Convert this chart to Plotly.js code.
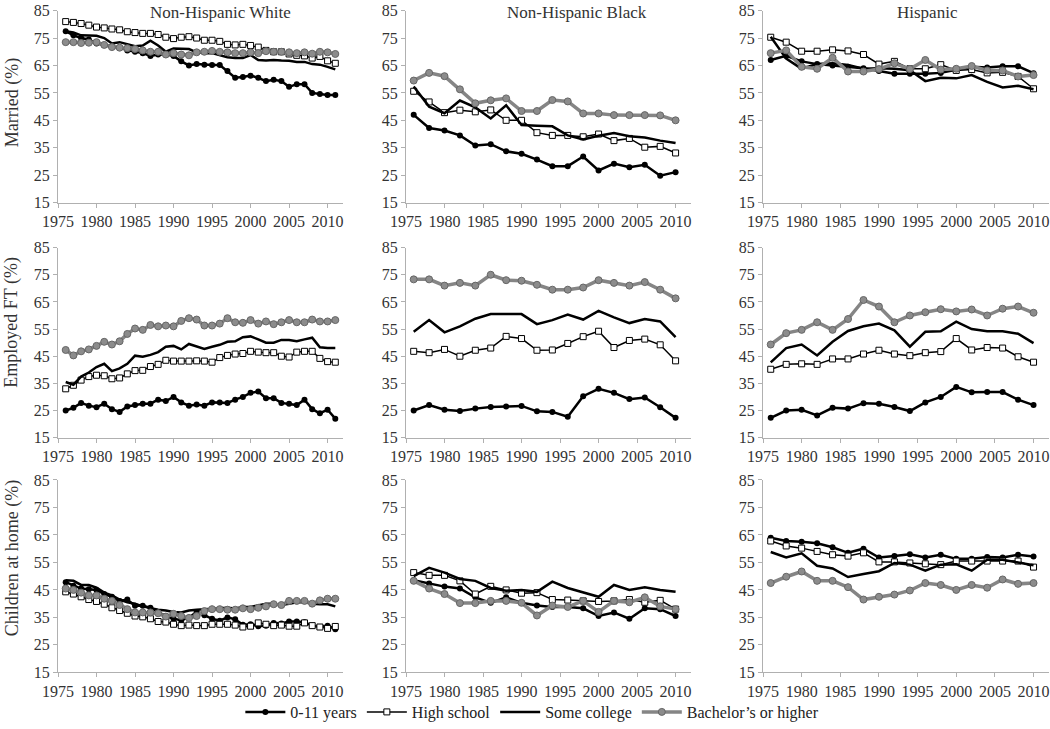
<!DOCTYPE html>
<html>
<head>
<meta charset="utf-8">
<script src="https://cdn.plot.ly/plotly-3.0.1.min.js"></script>
<style>html,body{margin:0;padding:0;background:#fff;}#chart{width:1050px;height:729px;}</style>
</head>
<body>
<div id="chart"></div>
<script>
// ---------- categories ----------
const yearsAnnual = [1976,1977,1978,1979,1980,1981,1982,1983,1984,1985,1986,1987,1988,1989,1990,1991,1992,1993,1994,1995,1996,1997,1998,1999,2000,2001,2002,2003,2004,2005,2006,2007,2008,2009,2010,2011];
const yearsBiennial = [1976,1978,1980,1982,1984,1986,1988,1990,1992,1994,1996,1998,2000,2002,2004,2006,2008,2010];
const seriesNames = ["0-11 years","High school","Some college","Bachelor\u2019s or higher"];
const columnTitles = ["Non-Hispanic White","Non-Hispanic Black","Hispanic"];
const rowTitles = ["Married (%)","Employed FT (%)","Children at home (%)"];
const xTickVals = [1975,1980,1985,1990,1995,2000,2005,2010];
const yTickVals = [15,25,35,45,55,65,75,85];

// ---------- Married ----------
const whiteMarried_0_11 = [77.5,76,75,74.5,73,72.5,72,71.5,70.5,70,69.5,68.5,69,69,68.5,66.5,65,65.5,65.3,65.2,65.2,63,60.5,60.8,61.3,60.5,59.3,59.8,59.3,57.2,58.2,58.2,55,54.6,54.2,54.2];
const whiteMarried_hs = [81,80.7,80.3,79.7,79,78.7,78.3,78,77.3,77,76.7,76.7,76.3,75.3,74.8,75.3,75.5,75,74.2,74.2,73.8,72.7,72.5,72.7,72.3,71.7,70.5,70,70,69.2,68.7,68.5,67.7,68.3,66.7,65.8];
const whiteMarried_sc = [77.5,77,76,75.8,75.8,75,73,73.5,72.8,72,72.3,74,72.3,70,71.2,71.2,71,69.8,69.5,69.5,68.8,68,67.7,67.7,68.8,67,66.8,67,66.8,66.7,66.3,66.3,65.5,65.3,64.5,63.6];
const whiteMarried_ba = [73.5,73.5,73.2,73.3,73.5,72.5,71.7,71.5,71.3,71,70.5,70,70,69,69.5,69,68.7,69.8,70,70.3,70,69.8,69.5,69.5,69.8,69.5,70.2,70,70,69.8,69.5,69.8,69.3,70,69.8,69.2];

const blackMarried_0_11 = [47,42.2,41.3,39.5,35.8,36.3,33.7,32.8,30.7,28.3,28.3,31.8,26.7,29.2,27.9,28.8,24.8,26.1];
const blackMarried_hs = [55.6,51.7,47.8,48.7,48.1,48.8,45,45,40.5,39.5,39.5,39,40,37.6,38.4,35.2,35.5,33.1];
const blackMarried_sc = [57.3,50,47.6,52.2,49.7,45.7,50.5,43.3,43,42.8,39.5,38,39.4,40.4,39.2,38.7,37.6,36.7];
const blackMarried_ba = [59.5,62.3,61.1,56.3,51.2,52.3,53,48.4,48.4,52.4,51.9,47.5,47.5,46.9,46.9,46.9,46.8,45];

const hispMarried_0_11 = [67,68.5,66.5,65.5,65,64.5,64,63,62,62,62,62.3,63.5,64.5,64.3,64.7,64.7,62.2];
const hispMarried_hs = [75.3,73.5,70.2,70.2,70.7,70.3,69,65.5,66.5,63.8,63.8,65.3,63.2,63.5,62.3,62.5,61,56.5];
const hispMarried_sc = [75.5,67.5,63.8,65.5,65.8,65.2,63.8,64,63.8,63.3,59.3,60.5,60.3,61.5,59,57,57.6,56.3];
const hispMarried_ba = [69.5,70.5,64.5,63.8,67.8,62.8,62.8,63.7,65.8,63.7,67,63.5,63.8,64.8,63.2,63.2,61,61.5];

// ---------- Employed FT ----------
const whiteEmployed_0_11 = [25,26,27.8,26.8,26.2,27.5,25.5,24.5,26.5,27,27.5,27.5,29,28.5,30,28,26.8,27.2,26.8,28,28,27.8,29,30,31.5,32,29.5,29.5,27.8,27.5,27,29,25.5,24,25.3,22];
const whiteEmployed_hs = [33,34.3,36.2,37.5,38,37.8,36.7,37,38.5,39.7,39.8,41.2,42,43.5,43.2,43.2,43.2,43.3,43.2,42.8,44.5,45.3,45.8,46,46.8,46.5,46.3,46.3,45,44.7,46.5,46.8,46.8,44.2,43,42.8];
const whiteEmployed_sc = [35.5,34.5,37.5,39,41,42.2,39.5,40.5,42.2,45.2,44.8,45.5,46.5,48.5,48.8,47.5,49.5,48.5,47.7,48.5,49.2,50.3,50.5,52,52.3,51.2,50,50,51,51,50.5,51.2,51.8,48.3,48,48];
const whiteEmployed_ba = [47.3,45.3,46.8,47.5,48.8,50.3,49.3,50.5,53.2,55.2,54.7,56.5,56,56.3,56,58,59,58.5,56.3,56.3,57,59,57.5,57.3,58.3,57,57.8,56.8,57.5,58.3,57.5,57.5,58.5,57.8,57.8,58.3];

const blackEmployed_0_11 = [25,27,25.3,24.8,25.7,26.3,26.5,26.7,24.7,24.5,22.7,30.3,33,31.5,29.2,29.8,26.2,22.3];
const blackEmployed_hs = [46.8,46.3,47.5,45,47.2,48,52.3,51.5,47.2,47.3,49.7,52.2,54.2,48.2,50.8,51.3,49.2,43.3];
const blackEmployed_sc = [54,58.3,53.8,56,58.8,60.5,60.5,60.5,56.8,58.3,60.3,58.5,61.7,59.3,57.2,58.7,57.8,52];
const blackEmployed_ba = [73.3,73.3,71,72,71,75,73,72.8,71.3,69.5,69.5,70.3,73,72,71,72.3,69.5,66.3];

const hispEmployed_0_11 = [22.3,25,25.3,23.2,26,25.7,27.7,27.5,26.3,24.8,28,30,33.7,31.7,31.8,31.8,29,27];
const hispEmployed_hs = [40.2,42,42.2,42,44,44,45.8,47.2,45.8,45.2,46.3,46.7,51.5,47.3,48.2,48,44.8,42.8];
const hispEmployed_sc = [42.7,48,49.3,45.3,50.3,54.3,56,57,54.5,48.5,54,54.2,57.7,55,54.2,54.2,53.3,49.8];
const hispEmployed_ba = [49.3,53.5,54.7,57.5,54.7,58.7,65.7,63.3,57.5,60,61.2,62.3,61.5,62.2,60,62.5,63.3,61];

// ---------- Children at home ----------
const whiteChildren_0_11 = [47.8,46.5,45.5,45.2,45,43.5,42.5,41,41.5,39.2,39.2,38.5,37,35.5,34.5,34,35,37,35.8,34.5,33.8,35,34.3,32.3,32.5,31.8,32,33,32.8,33.5,33.5,33.2,32,31.5,32,30.7];
const whiteChildren_hs = [44.3,43.5,42.5,41.5,40.8,39.8,38.5,37.5,36.5,35.5,35.2,34.5,33.5,33.3,32.5,32,32.2,32,32,32.5,32.5,32.5,32.2,31.5,31.8,33,32.5,32,32.2,31.8,31.8,33,32,31.5,31,31.7];
const whiteChildren_sc = [48.5,48.3,46.8,46.8,45.8,44,43,41.5,40.5,40,39,38.3,37.8,37.5,37,36.8,37.5,37.8,38,38,38.2,38.5,38.2,38.8,38.8,39.5,40,40,39.5,40,40.5,40.5,40,39.8,39.8,39];
const whiteChildren_ba = [45.5,45,44,43,43,41.8,41,39.5,38,36.8,36.8,36.8,36.5,35.3,36.3,35.5,34.8,35.5,37.3,38,38,37.8,37.8,38.3,38,38.5,39,39.8,39.5,41,41,41,40,41.2,41.8,41.8];

const blackChildren_0_11 = [48.5,47.3,46.2,45.5,42.3,40.3,42.3,40.3,39.3,38.8,38.8,38.3,35.5,36.8,34.5,38.3,38,35.5];
const blackChildren_hs = [51.3,50.3,50.3,48.3,43.5,46.3,45,43.8,44,41.5,41.3,41,40.8,41,41.5,40.5,41.2,38];
const blackChildren_sc = [50,53,51.3,49,48.3,45.7,44.7,45,44.3,48,45.7,44,42.5,46.8,45,46,45,44.3];
const blackChildren_ba = [48.3,45.5,43.5,40.2,40.2,41,41,40.3,35.7,39.3,38.8,41,37,41,40.5,42.3,39,38];

const hispChildren_0_11 = [64,62.8,62.5,62,60.5,58.5,60,56.8,57.3,58,56.8,57.8,56.3,56.3,57,56.8,57.8,57.2];
const hispChildren_hs = [62.8,61,60.2,59,57.8,57.3,58.5,55.2,55.2,54.8,54.5,54.2,55.5,55.5,55.5,55.5,55.5,53.3];
const hispChildren_sc = [58.8,56.8,58.3,53.8,52.8,49.7,50.8,51.8,54.8,54.2,52,54.2,54.3,52,56,56,55,54];
const hispChildren_ba = [47.5,49.8,51.7,48.3,48.3,46,41.5,42.5,43.3,44.8,47.5,46.8,45,46.8,45.8,48.8,47.2,47.5];

// ---------- build ----------
const panels = [
  [yearsAnnual, [whiteMarried_0_11, whiteMarried_hs, whiteMarried_sc, whiteMarried_ba]],
  [yearsBiennial, [blackMarried_0_11, blackMarried_hs, blackMarried_sc, blackMarried_ba]],
  [yearsBiennial, [hispMarried_0_11, hispMarried_hs, hispMarried_sc, hispMarried_ba]],
  [yearsAnnual, [whiteEmployed_0_11, whiteEmployed_hs, whiteEmployed_sc, whiteEmployed_ba]],
  [yearsBiennial, [blackEmployed_0_11, blackEmployed_hs, blackEmployed_sc, blackEmployed_ba]],
  [yearsBiennial, [hispEmployed_0_11, hispEmployed_hs, hispEmployed_sc, hispEmployed_ba]],
  [yearsAnnual, [whiteChildren_0_11, whiteChildren_hs, whiteChildren_sc, whiteChildren_ba]],
  [yearsBiennial, [blackChildren_0_11, blackChildren_hs, blackChildren_sc, blackChildren_ba]],
  [yearsBiennial, [hispChildren_0_11, hispChildren_hs, hispChildren_sc, hispChildren_ba]]
];

const styles = [
  {mode:'lines+markers', line:{color:'#000', width:2.5}, marker:{symbol:'circle', size:6, color:'#000'}},
  {mode:'lines+markers', line:{color:'#000', width:1.5}, marker:{symbol:'square', size:6, color:'#fff', line:{color:'#000', width:1}}},
  {mode:'lines', line:{color:'#000', width:2.5}},
  {mode:'lines+markers', line:{color:'#858585', width:3.5}, marker:{symbol:'circle', size:7, color:'#8c8c8c', line:{color:'#666', width:1}}}
];

const W = 1050, H = 729;
const colPx = [[58, 343], [406, 691], [763, 1049]];
const rowPx = [[10.7, 204], [249.3, 440.7], [483.3, 677]];

const data = [];
const layout = {
  width: W, height: H,
  margin: {l:0, r:0, t:0, b:0},
  paper_bgcolor: '#fff', plot_bgcolor: '#fff',
  font: {family: '"Liberation Serif", "DejaVu Serif", serif', color: '#333', size: 16},
  showlegend: true,
  legend: {orientation:'h', x:0.507, xanchor:'center', y:1-717/H, yanchor:'middle',
           font:{size:16, color:'#222'}, bgcolor:'rgba(0,0,0,0)', itemwidth:40, tracegroupgap:0},
  annotations: []
};

panels.forEach((p, i) => {
  const r = Math.floor(i / 3), c = i % 3;
  const suffix = i === 0 ? '' : String(i + 1);
  const xa = 'x' + suffix, ya = 'y' + suffix;
  p[1].forEach((vals, s) => {
    const st = styles[s];
    data.push(Object.assign({
      type: 'scatter', x: p[0], y: vals, xaxis: xa, yaxis: ya,
      name: seriesNames[s], legendgroup: 'g' + s, showlegend: i === 0,
      hoverinfo: 'x+y+name'
    }, JSON.parse(JSON.stringify(st))));
  });
  const axisCommon = {
    showgrid:false, zeroline:false, showline:true, linecolor:'#b0b0b0', linewidth:1,
    ticks:'outside', ticklen:4, tickcolor:'#b0b0b0', tickfont:{size:16, color:'#333'}
  };
  layout['xaxis' + suffix] = Object.assign({}, axisCommon, {
    domain:[colPx[c][0]/W, colPx[c][1]/W], range:[1975, 2012], anchor: ya,
    tickmode:'array', tickvals: xTickVals, ticktext: xTickVals.map(String)
  });
  layout['yaxis' + suffix] = Object.assign({}, axisCommon, {
    domain:[1 - rowPx[r][1]/H, 1 - rowPx[r][0]/H], range:[15, 85], anchor: xa,
    tickmode:'array', tickvals: yTickVals, ticktext: yTickVals.map(String)
  });
});

const colTitleX = [220, 577, 927];
columnTitles.forEach((t, c) => {
  layout.annotations.push({text:t, xref:'paper', yref:'paper', x: colTitleX[c]/W, y: 1 - 1/H,
    xanchor:'center', yanchor:'top', showarrow:false, font:{size:17, color:'#333'}});
});
const rowTitleY = [104, 325, 562];
rowTitles.forEach((t, r) => {
  layout.annotations.push({text:t, xref:'paper', yref:'paper', x: 12/W, y: 1 - rowTitleY[r]/H,
    xanchor:'center', yanchor:'middle', textangle:-90, showarrow:false, font:{size:18, color:'#333'}});
});

Plotly.newPlot('chart', data, layout, {displayModeBar:false, staticPlot:true});
</script>
</body>
</html>
